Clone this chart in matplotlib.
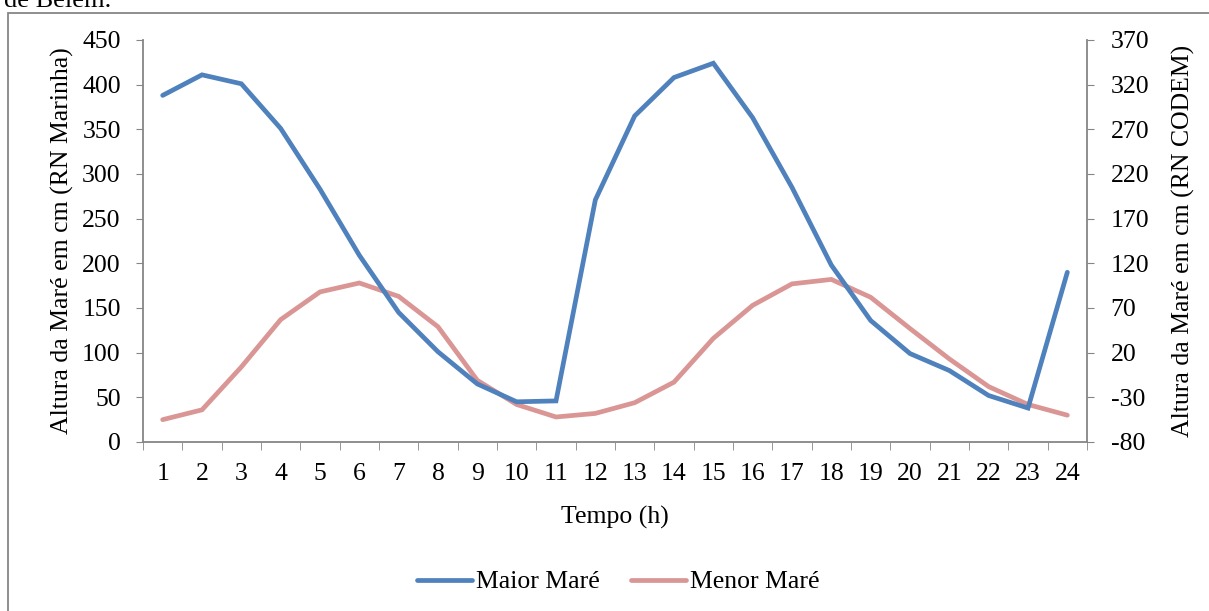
import matplotlib
matplotlib.use("Agg")
import matplotlib.pyplot as plt
from matplotlib.patches import Rectangle

plt.rcParams['font.family'] = ['Liberation Serif', 'DejaVu Serif']
plt.rcParams['axes.unicode_minus'] = False

horas = [str(i) for i in range(1, 25)]
maior_mare = [388, 411, 401, 351, 283, 209, 145, 101, 65, 45, 46, 271,
              365, 408, 424, 363, 285, 198, 136, 99, 80, 52, 38, 190]
# Menor Maré on secondary axis (RN CODEM)
menor_mare = [-55, -44, 4, 57, 88, 98, 83, 49, -11, -38, -52, -48,
              -36, -13, 36, 73, 97, 102, 82, 47, 13, -18, -38, -50]

left_ticks = list(range(0, 451, 50))
right_ticks = list(range(-80, 371, 50))

W, H = 1209, 611
FS = 18.5
fig = plt.figure(figsize=(W / 100, H / 100), dpi=100)
ax = fig.add_axes([143 / W, 1 - 442 / H, (1087 - 143) / W, (442 - 40) / H])
ax2 = ax.twinx()

blue = '#4F81BD'
red = '#D99694'
gray = '#868686'
x = list(range(len(horas)))

l1, = ax.plot(x, maior_mare, color=blue, lw=3.4, solid_joinstyle='miter',
              solid_capstyle='round', zorder=3)
l2, = ax2.plot(x, menor_mare, color=red, lw=3.4, solid_joinstyle='miter',
               solid_capstyle='round', zorder=2)
ax.set_zorder(ax2.get_zorder() + 1)
ax.patch.set_visible(False)

ax.set_xlim(-0.5, len(horas) - 0.5)
ax.set_ylim(0, 450)
ax2.set_ylim(-80, 370)
ax.set_yticks(left_ticks)
ax2.set_yticks(right_ticks)
ax.set_xticks(x)
ax.set_xticklabels(horas)
ax.set_xticks([i - 0.5 for i in range(len(horas) + 1)], minor=True)
ax.tick_params(axis='x', which='major', length=0, pad=15, labelsize=FS)
ax.tick_params(axis='x', which='minor', length=6, color=gray, direction='out')
ax.tick_params(axis='y', length=5, color=gray, labelsize=FS, pad=11)
ax2.tick_params(axis='y', length=5, color=gray, labelsize=FS, pad=12)

for a in (ax, ax2):
    for s in a.spines.values():
        s.set_visible(False)
ax.spines['left'].set_visible(True)
ax.spines['bottom'].set_visible(True)
ax.spines['left'].set_color(gray)
ax.spines['bottom'].set_color(gray)
ax2.spines['right'].set_visible(True)
ax2.spines['right'].set_color(gray)
for s in ('left', 'bottom'):
    ax.spines[s].set_linewidth(1.3)
ax2.spines['right'].set_linewidth(1.3)

ax.set_ylabel('Altura da Maré em cm (RN Marinha)', fontsize=FS, labelpad=6)
ax2.set_ylabel('Altura da Maré em cm (RN CODEM)', fontsize=FS, labelpad=16)
ax.set_xlabel('Tempo (h)', fontsize=FS, labelpad=15)

fig.legend([l1, l2], ['Maior Maré', 'Menor Maré'], loc='center',
           bbox_to_anchor=(618 / W, 1 - 582 / H), ncol=2, frameon=False,
           fontsize=FS, handlelength=2.15, handletextpad=0.15, columnspacing=1.2)

fig.patches.append(Rectangle((8 / W, -0.05), 1.1, 1 - 13 / H + 0.05,
                             transform=fig.transFigure, fill=False,
                             edgecolor=gray, lw=1.3))
fig.text(4 / W, 1 - 1 / H, 'de Belém.', fontsize=19, va='center', ha='left')

fig.savefig('out.png', dpi=100)
